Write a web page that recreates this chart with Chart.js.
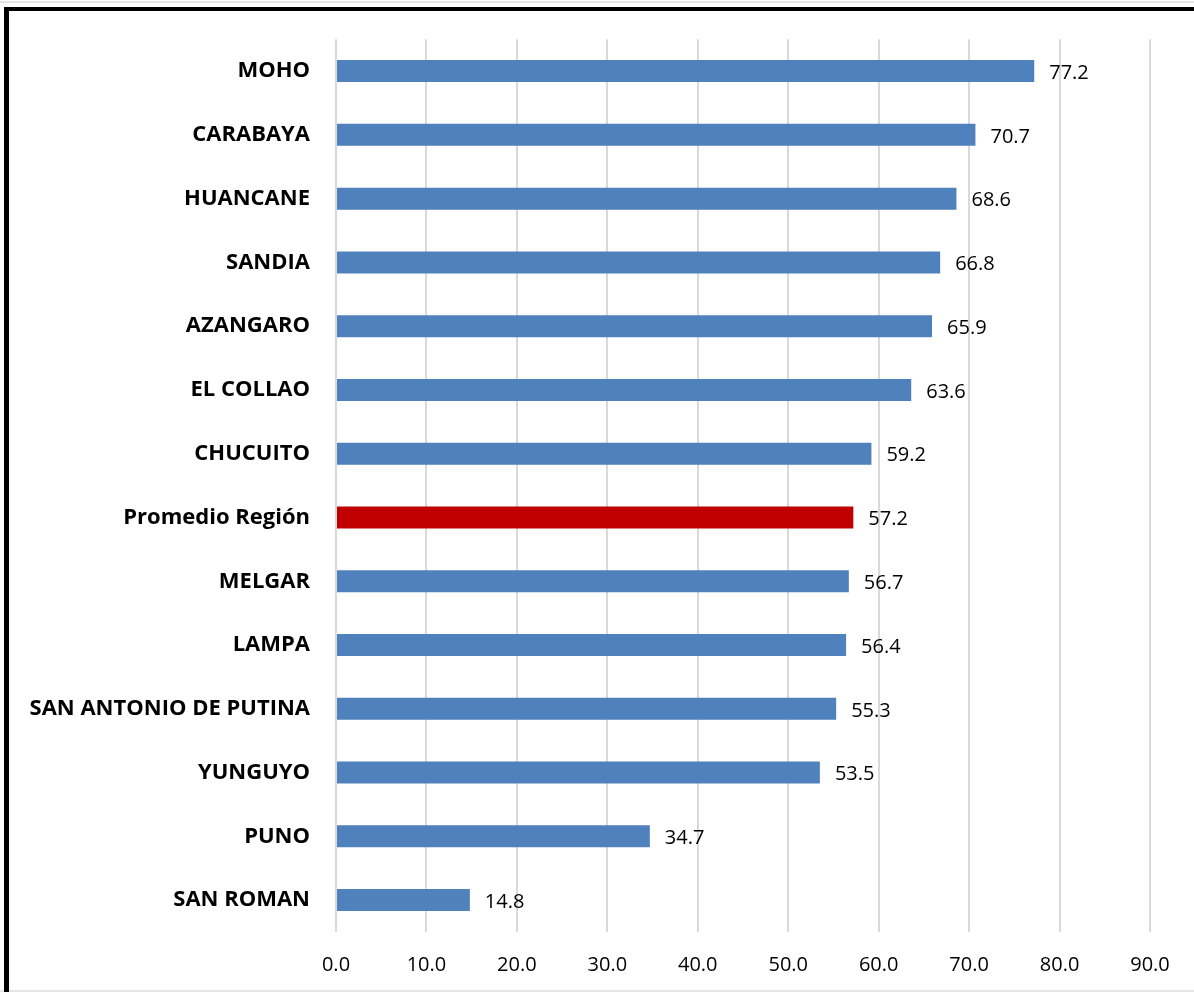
<!DOCTYPE html>
<html>
<head>
<meta charset="utf-8">
<script src="https://cdn.jsdelivr.net/npm/chart.js@4/dist/chart.umd.min.js"></script>
<style>
  html, body { margin: 0; padding: 0; background: #fff; }
  #wrap { position: relative; width: 1194px; height: 992px; overflow: hidden; }
  #frame { position: absolute; left: 4px; top: 7px; right: -10px; bottom: -10px;
           border-top: 4px solid #000; border-left: 5px solid #000; }
  #topline { position: absolute; left: 0; top: 1px; width: 1194px; height: 2px; background: #e6e6e6; }
  #botline { position: absolute; left: 0; top: 990px; width: 1194px; height: 2px; background: #e6e6e6; }
  canvas { position: absolute; left: 0; top: 0; }
</style>
</head>
<body>
<div id="wrap">
  <div id="topline"></div>
  <div id="botline"></div>
  <div id="frame"></div>
  <canvas id="chart" width="1194" height="992"></canvas>
</div>
<script>
// Provincias de Puno
const provinces = ['MOHO', 'CARABAYA', 'HUANCANE', 'SANDIA', 'AZANGARO', 'EL COLLAO', 'CHUCUITO',
  'Promedio Región', 'MELGAR', 'LAMPA', 'SAN ANTONIO DE PUTINA', 'YUNGUYO', 'PUNO', 'SAN ROMAN'];
const values = [77.2, 70.7, 68.6, 66.8, 65.9, 63.6, 59.2, 57.2, 56.7, 56.4, 55.3, 53.5, 34.7, 14.8];
const xTicks = [0, 10, 20, 30, 40, 50, 60, 70, 80, 90];

const barColors = provinces.map(p => p === 'Promedio Región' ? '#C00000' : '#4F81BD');

// draws the value next to each bar
const valueLabels = {
  id: 'valueLabels',
  afterDatasetsDraw(chart) {
    const ctx = chart.ctx;
    const meta = chart.getDatasetMeta(0);
    ctx.save();
    ctx.font = '20px "Open Sans", sans-serif';
    ctx.fillStyle = '#000';
    ctx.textAlign = 'left';
    ctx.textBaseline = 'middle';
    meta.data.forEach((bar, i) => {
      ctx.fillText(values[i].toFixed(1), bar.x + 15, bar.y + 2);
    });
    ctx.restore();
  }
};

new Chart(document.getElementById('chart'), {
  type: 'bar',
  data: {
    labels: provinces,
    datasets: [{
      data: values,
      backgroundColor: barColors,
      borderWidth: 0,
      barPercentage: 0.345,
      categoryPercentage: 1.0
    }]
  },
  options: {
    indexAxis: 'y',
    responsive: false,
    animation: false,
    layout: { padding: { top: 38, right: 44, left: 0, bottom: 0 } },
    plugins: { legend: { display: false }, tooltip: { enabled: false } },
    scales: {
      x: {
        min: 0,
        max: 90,
        afterBuildTicks(scale) { scale.ticks = xTicks.map(v => ({ value: v })); },
        afterFit(scale) { scale.height = 60; },
        border: { display: false },
        grid: { color: '#d9d9d9', lineWidth: 2, drawTicks: false },
        ticks: {
          padding: 21,
          color: '#000',
          font: { family: '"Open Sans", sans-serif', size: 20 },
          callback: v => v.toFixed(1)
        }
      },
      y: {
        afterFit(scale) { scale.width = 336; },
        border: { display: false },
        grid: { display: false, drawTicks: false },
        ticks: {
          padding: 26,
          color: '#000',
          font: { family: '"Open Sans", sans-serif', size: 22, weight: 'bold' }
        }
      }
    }
  },
  plugins: [valueLabels]
});
</script>
</body>
</html>
